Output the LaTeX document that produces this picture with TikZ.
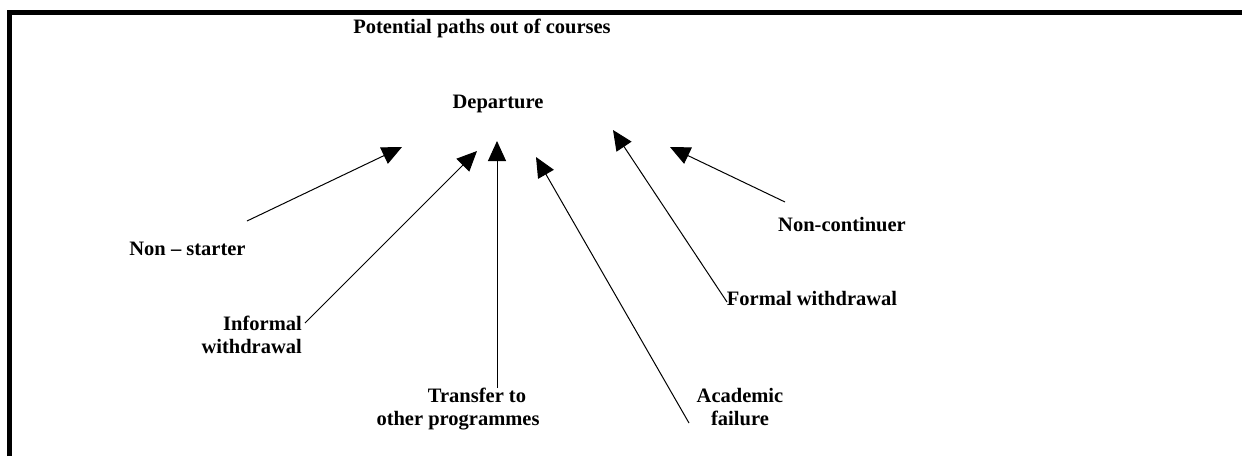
\documentclass[tikz,border=0pt]{standalone}
\usepackage{fontspec}
\setmainfont{Liberation Serif}
\usetikzlibrary{arrows.meta}
\begin{document}
\begin{tikzpicture}[x=1pt,y=-1pt,
  lbl/.style={inner sep=0pt, font=\fontsize{20.5}{23}\selectfont\bfseries},
  arr/.style={line width=1pt, -{Triangle[length=20pt,width=18pt]}},
  frame/.style={line width=5pt, line join=miter}]
\useasboundingbox (0,0) rectangle (1242,456);
\draw[frame] (9.5,456) -- (9.5,12.5) -- (1242,12.5);

% labels
\node[lbl, anchor=base] (title) at (482,33) {Potential paths out of courses};
\node[lbl, anchor=base] (dep) at (498,108) {Departure};
\node[lbl, anchor=base] (ns) at (187.5,255) {Non -- starter};
\node[lbl, anchor=base east, align=right] (iw) at (302,353) {Informal\\withdrawal};
\node[lbl, anchor=base, align=center] (tr) at (458,425) {\hspace*{38pt}Transfer to\\other programmes};
\node[lbl, anchor=base, align=center] (af) at (740,425) {Academic\\failure};
\node[lbl, anchor=base] (fw) at (812,305) {Formal withdrawal};
\node[lbl, anchor=base] (nc) at (842,231) {Non-continuer};

% connector ends
\coordinate (s1) at (247,221);  \coordinate (t1) at (402,147);
\coordinate (s2) at (305,323);  \coordinate (t2) at (477,151);
\coordinate (s3) at (497,388);  \coordinate (t3) at (497,141);
\coordinate (s4) at (689,423);  \coordinate (t4) at (536,157);
\coordinate (s5) at (727,302);  \coordinate (t5) at (613,130);
\coordinate (s6) at (785,202);  \coordinate (t6) at (670,147);

\draw[arr] (s1) -- (t1);
\draw[arr] (s2) -- (t2);
\draw[arr] (s3) -- (t3);
\draw[arr] (s4) -- (t4);
\draw[arr] (s5) -- (t5);
\draw[arr] (s6) -- (t6);
\end{tikzpicture}
\end{document}
